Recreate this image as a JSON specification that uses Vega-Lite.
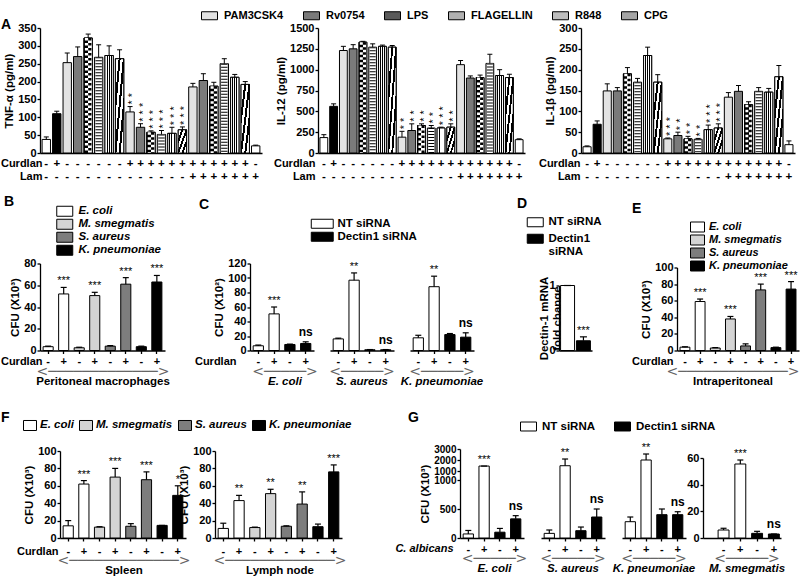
{
"$schema": "https://vega.github.io/schema/vega-lite/v6.json",
"padding": {"left": 0, "top": 7, "right": 0, "bottom": 0},
"spacing": 23.5,
"resolve": {"scale": {"fill": "independent"}, "legend": {"fill": "independent"}},
"config": {
 "font": "Liberation Sans",
 "view": {"stroke": null},
 "axis": {"labelFont": "Liberation Sans", "labelFontSize": 11, "labelFontWeight": "bold", "labelColor": "black", "titleFont": "Liberation Sans", "titleFontSize": 11.5, "titleFontWeight": "bold", "titleColor": "black", "domainColor": "black", "domainWidth": 1.3, "tickColor": "black", "tickWidth": 1.3, "tickSize": 3, "labelPadding": 1, "titlePadding": 3, "grid": false, "labelOverlap": false},
 "axisX": {"labelAngle": 0, "labelPadding": 2},
 "legend": {"labelFont": "Liberation Sans", "labelFontSize": 11.5, "labelFontWeight": "bold", "labelColor": "black", "symbolStrokeColor": "black", "symbolStrokeWidth": 1, "symbolOpacity": 1, "padding": 0, "labelLimit": 300, "titleFont": "Liberation Sans", "titleFontSize": 14, "titleFontWeight": "bold", "titleColor": "black", "titleOrient": "left", "titleAnchor": "start"},
 "title": {"orient": "bottom", "anchor": "middle", "frame": "group", "font": "DejaVu Sans", "fontSize": 14, "fontWeight": "normal", "color": "#666666", "offset": -2, "subtitleFont": "Liberation Sans", "subtitleFontSize": 11.5, "subtitleFontWeight": "bold", "subtitleColor": "black", "subtitlePadding": -3},
 "bar": {"stroke": "black", "strokeWidth": 1},
 "text": {"font": "Liberation Sans", "fontWeight": "bold", "color": "black"}
},
"vconcat": [
{
 "hconcat": [
 {
  "width": 222, "height": 125,
  "data": {"values": [
   {"k":"01|-|-","t":"Ctrl","v":38,"e":45,"s":""},
   {"k":"02|+|-","t":"Curdlan","v":110,"e":117,"s":""},
   {"k":"03|-|-","t":"PAM3CSK4","v":253,"e":280,"s":""},
   {"k":"04|-|-","t":"Rv0754","v":270,"e":297,"s":""},
   {"k":"05|-|-","t":"LPS","v":322,"e":333,"s":""},
   {"k":"06|-|-","t":"FLAGELLIN","v":268,"e":303,"s":""},
   {"k":"07|-|-","t":"R848","v":273,"e":300,"s":""},
   {"k":"08|-|-","t":"CPG","v":264,"e":289,"s":""},
   {"k":"09|+|-","t":"PAM3CSK4","v":115,"e":130,"s":"* *"},
   {"k":"10|+|-","t":"Rv0754","v":72,"e":82,"s":"* * *"},
   {"k":"11|+|-","t":"LPS","v":58,"e":62,"s":"* * *"},
   {"k":"12|+|-","t":"FLAGELLIN","v":52,"e":63,"s":"* * *"},
   {"k":"13|+|-","t":"R848","v":55,"e":72,"s":"* * *"},
   {"k":"14|+|-","t":"CPG","v":65,"e":73,"s":"* * *"},
   {"k":"15|+|+","t":"PAM3CSK4","v":185,"e":195,"s":""},
   {"k":"16|+|+","t":"Rv0754","v":203,"e":222,"s":""},
   {"k":"17|+|+","t":"LPS","v":187,"e":198,"s":""},
   {"k":"18|+|+","t":"FLAGELLIN","v":250,"e":264,"s":""},
   {"k":"19|+|+","t":"R848","v":212,"e":220,"s":""},
   {"k":"20|+|+","t":"CPG","v":192,"e":200,"s":""},
   {"k":"21|-|+","t":"Lam","v":20,"e":22,"s":""}
  ]},
  "encoding": {"x": {"field": "k", "type": "nominal", "sort": null, "scale": {"paddingInner": 0.2, "paddingOuter": 0.2}, "axis": {"labelExpr": "slice(split(datum.value,'|'),1)", "ticks": false, "labelPadding": 4, "labelLineHeight": 13, "labelFontSize": 11.5, "title": ["Curdlan", "Lam"], "titleX": 2, "titleY": 4, "titleAlign": "right", "titleBaseline": "top", "titleAngle": 0, "titleLineHeight": 13, "titleFontSize": 11}}},
  "layer": [
   {"mark": "bar", "encoding": {
     "y": {"field": "v", "type": "quantitative", "scale": {"domain": [0, 350], "nice": false}, "axis": {"values": [0,50,100,150,200,250,300,350], "tickCount": 20, "labelOverlap": false, "title": "TNF-α (pg/ml)"}},
     "fill": {"field": "t", "type": "nominal", "scale": {"domain": ["Ctrl","Curdlan","PAM3CSK4","Rv0754","LPS","FLAGELLIN","R848","CPG","Lam"], "range": ["white","black","#e3e3e3","#7a7a7a","#5a5a5a","#b0b0b0","#bdbdbd","#a5a5a5","white"]},
      "legend": {"values": ["PAM3CSK4","Rv0754","LPS","FLAGELLIN","R848","CPG"], "orient": "none", "legendX": -39, "legendY": -21, "title": "A", "titlePadding": 189, "titleBaseline": "line-top", "titleLineHeight": 36, "direction": "horizontal", "symbolType": "M-1,-0.5H1V0.5H-1Z", "symbolSize": 256, "labelFontSize": 11, "labelOffset": 6, "columnPadding": 17}}}},
   {"transform": [{"filter": "datum.t=='LPS'"}], "mark": {"type": "bar", "fill": {"gradient":"linear","x1":0,"y1":0,"x2":1,"y2":0,"stops":[{"offset":0,"color":"black"},{"offset":0.5,"color":"black"},{"offset":0.5,"color":"white"},{"offset":1,"color":"white"}]}}, "encoding": {"y": {"field": "v", "type": "quantitative"}}},
   {"transform": [{"filter": "datum.t=='LPS'"}], "mark": {"type": "rule", "color": "white", "strokeWidth": 3.2, "xOffset": -1.65, "strokeDash": [2.5, 2.5]}, "encoding": {"y": {"field": "v", "type": "quantitative"}, "y2": {"datum": 0}}},
   {"transform": [{"filter": "datum.t=='LPS'"}], "mark": {"type": "rule", "color": "black", "strokeWidth": 3.2, "xOffset": 1.65, "strokeDash": [2.5, 2.5]}, "encoding": {"y": {"field": "v", "type": "quantitative"}, "y2": {"datum": 0}}},
   {"transform": [{"filter": "datum.t=='FLAGELLIN'"}], "mark": {"type": "rule", "color": "white", "strokeWidth": 6.4}, "encoding": {"y": {"field": "v", "type": "quantitative"}, "y2": {"datum": 0}}},
   {"transform": [{"filter": "datum.t=='FLAGELLIN'"}], "mark": {"type": "rule", "color": "black", "strokeWidth": 6.4, "strokeDash": [1, 2]}, "encoding": {"y": {"field": "v", "type": "quantitative"}, "y2": {"datum": 0}}},
   {"transform": [{"filter": "datum.t=='R848'"}], "mark": {"type": "bar", "fill": {"gradient":"linear","x1":0,"y1":0,"x2":1,"y2":0,"stops":[{"offset":0,"color":"white"},{"offset":0.19,"color":"white"},{"offset":0.19,"color":"black"},{"offset":0.31,"color":"black"},{"offset":0.31,"color":"white"},{"offset":0.44,"color":"white"},{"offset":0.44,"color":"black"},{"offset":0.56,"color":"black"},{"offset":0.56,"color":"white"},{"offset":0.69,"color":"white"},{"offset":0.69,"color":"black"},{"offset":0.81,"color":"black"},{"offset":0.81,"color":"white"},{"offset":1,"color":"white"}]}}, "encoding": {"y": {"field": "v", "type": "quantitative"}}},
   {"transform": [{"filter": "datum.t=='CPG'"}], "mark": {"type": "bar", "fill": {"gradient":"linear","x1":0,"y1":0,"x2":1,"y2":1,"stops":[{"offset":0,"color":"white"},{"offset":0.19,"color":"white"},{"offset":0.19,"color":"black"},{"offset":0.31,"color":"black"},{"offset":0.31,"color":"white"},{"offset":0.44,"color":"white"},{"offset":0.44,"color":"black"},{"offset":0.56,"color":"black"},{"offset":0.56,"color":"white"},{"offset":0.69,"color":"white"},{"offset":0.69,"color":"black"},{"offset":0.81,"color":"black"},{"offset":0.81,"color":"white"},{"offset":1,"color":"white"}]}}, "encoding": {"y": {"field": "v", "type": "quantitative"}}},
   {"mark": {"type": "rule", "color": "black", "strokeWidth": 1}, "encoding": {"y": {"field": "e", "type": "quantitative"}, "y2": {"field": "v"}}},
   {"mark": {"type": "tick", "color": "black", "thickness": 1, "size": 5, "opacity": 1}, "encoding": {"y": {"field": "e", "type": "quantitative"}}},
   {"mark": {"type": "text", "angle": 270, "align": "left", "baseline": "middle", "dx": 2, "dy": 3, "fontSize": 11, "fontWeight": "normal"}, "encoding": {"y": {"field": "e", "type": "quantitative"}, "text": {"field": "s"}}}
  ]
 },
 {
  "width": 207, "height": 125,
  "data": {"values": [
   {"k":"01|-|-","t":"Ctrl","v":185,"e":220,"s":""},
   {"k":"02|+|-","t":"Curdlan","v":560,"e":590,"s":""},
   {"k":"03|-|-","t":"PAM3CSK4","v":1230,"e":1280,"s":""},
   {"k":"04|-|-","t":"Rv0754","v":1250,"e":1300,"s":""},
   {"k":"05|-|-","t":"LPS","v":1330,"e":1340,"s":""},
   {"k":"06|-|-","t":"FLAGELLIN","v":1270,"e":1310,"s":""},
   {"k":"07|-|-","t":"R848","v":1280,"e":1295,"s":""},
   {"k":"08|-|-","t":"CPG","v":1270,"e":1290,"s":""},
   {"k":"09|+|-","t":"PAM3CSK4","v":190,"e":260,"s":"* *"},
   {"k":"10|+|-","t":"Rv0754","v":270,"e":350,"s":"* *"},
   {"k":"11|+|-","t":"LPS","v":330,"e":350,"s":"* *"},
   {"k":"12|+|-","t":"FLAGELLIN","v":300,"e":330,"s":"* *"},
   {"k":"13|+|-","t":"R848","v":300,"e":310,"s":"* * *"},
   {"k":"14|+|-","t":"CPG","v":310,"e":350,"s":"* *"},
   {"k":"15|+|+","t":"PAM3CSK4","v":1060,"e":1110,"s":""},
   {"k":"16|+|+","t":"Rv0754","v":900,"e":925,"s":""},
   {"k":"17|+|+","t":"LPS","v":905,"e":935,"s":""},
   {"k":"18|+|+","t":"FLAGELLIN","v":1075,"e":1185,"s":""},
   {"k":"19|+|+","t":"R848","v":930,"e":1000,"s":""},
   {"k":"20|+|+","t":"CPG","v":905,"e":945,"s":""},
   {"k":"21|-|+","t":"Lam","v":160,"e":170,"s":""}
  ]},
  "encoding": {"x": {"field": "k", "type": "nominal", "sort": null, "scale": {"paddingInner": 0.2, "paddingOuter": 0.2}, "axis": {"labelExpr": "slice(split(datum.value,'|'),1)", "ticks": false, "labelPadding": 4, "labelLineHeight": 13, "labelFontSize": 11.5, "title": ["Curdlan", "Lam"], "titleX": -3, "titleY": 4, "titleAlign": "right", "titleBaseline": "top", "titleAngle": 0, "titleLineHeight": 13, "titleFontSize": 11}}},
  "layer": [
   {"mark": "bar", "encoding": {
     "y": {"field": "v", "type": "quantitative", "scale": {"domain": [0, 1500], "nice": false}, "axis": {"values": [0,250,500,750,1000,1250,1500], "tickCount": 20, "format": "d", "labelOverlap": false, "title": "IL-12 (pg/ml)"}},
     "fill": {"field": "t", "type": "nominal", "scale": {"domain": ["Ctrl","Curdlan","PAM3CSK4","Rv0754","LPS","FLAGELLIN","R848","CPG","Lam"], "range": ["white","black","#e3e3e3","#7a7a7a","#5a5a5a","#b0b0b0","#bdbdbd","#a5a5a5","white"]}, "legend": null}}},
   {"transform": [{"filter": "datum.t=='LPS'"}], "mark": {"type": "bar", "fill": {"gradient":"linear","x1":0,"y1":0,"x2":1,"y2":0,"stops":[{"offset":0,"color":"black"},{"offset":0.5,"color":"black"},{"offset":0.5,"color":"white"},{"offset":1,"color":"white"}]}}, "encoding": {"y": {"field": "v", "type": "quantitative"}}},
   {"transform": [{"filter": "datum.t=='LPS'"}], "mark": {"type": "rule", "color": "white", "strokeWidth": 3.0, "xOffset": -1.55, "strokeDash": [2.5, 2.5]}, "encoding": {"y": {"field": "v", "type": "quantitative"}, "y2": {"datum": 0}}},
   {"transform": [{"filter": "datum.t=='LPS'"}], "mark": {"type": "rule", "color": "black", "strokeWidth": 3.0, "xOffset": 1.55, "strokeDash": [2.5, 2.5]}, "encoding": {"y": {"field": "v", "type": "quantitative"}, "y2": {"datum": 0}}},
   {"transform": [{"filter": "datum.t=='FLAGELLIN'"}], "mark": {"type": "rule", "color": "white", "strokeWidth": 6.0}, "encoding": {"y": {"field": "v", "type": "quantitative"}, "y2": {"datum": 0}}},
   {"transform": [{"filter": "datum.t=='FLAGELLIN'"}], "mark": {"type": "rule", "color": "black", "strokeWidth": 6.0, "strokeDash": [1, 2]}, "encoding": {"y": {"field": "v", "type": "quantitative"}, "y2": {"datum": 0}}},
   {"transform": [{"filter": "datum.t=='R848'"}], "mark": {"type": "bar", "fill": {"gradient":"linear","x1":0,"y1":0,"x2":1,"y2":0,"stops":[{"offset":0,"color":"white"},{"offset":0.19,"color":"white"},{"offset":0.19,"color":"black"},{"offset":0.31,"color":"black"},{"offset":0.31,"color":"white"},{"offset":0.44,"color":"white"},{"offset":0.44,"color":"black"},{"offset":0.56,"color":"black"},{"offset":0.56,"color":"white"},{"offset":0.69,"color":"white"},{"offset":0.69,"color":"black"},{"offset":0.81,"color":"black"},{"offset":0.81,"color":"white"},{"offset":1,"color":"white"}]}}, "encoding": {"y": {"field": "v", "type": "quantitative"}}},
   {"transform": [{"filter": "datum.t=='CPG'"}], "mark": {"type": "bar", "fill": {"gradient":"linear","x1":0,"y1":0,"x2":1,"y2":1,"stops":[{"offset":0,"color":"white"},{"offset":0.19,"color":"white"},{"offset":0.19,"color":"black"},{"offset":0.31,"color":"black"},{"offset":0.31,"color":"white"},{"offset":0.44,"color":"white"},{"offset":0.44,"color":"black"},{"offset":0.56,"color":"black"},{"offset":0.56,"color":"white"},{"offset":0.69,"color":"white"},{"offset":0.69,"color":"black"},{"offset":0.81,"color":"black"},{"offset":0.81,"color":"white"},{"offset":1,"color":"white"}]}}, "encoding": {"y": {"field": "v", "type": "quantitative"}}},
   {"mark": {"type": "rule", "color": "black", "strokeWidth": 1}, "encoding": {"y": {"field": "e", "type": "quantitative"}, "y2": {"field": "v"}}},
   {"mark": {"type": "tick", "color": "black", "thickness": 1, "size": 5, "opacity": 1}, "encoding": {"y": {"field": "e", "type": "quantitative"}}},
   {"mark": {"type": "text", "angle": 270, "align": "left", "baseline": "middle", "dx": 2, "dy": 3, "fontSize": 11, "fontWeight": "normal"}, "encoding": {"y": {"field": "e", "type": "quantitative"}, "text": {"field": "s"}}}
  ]
 },
 {
  "width": 214, "height": 125,
  "data": {"values": [
   {"k":"01|-|-","t":"Ctrl","v":15,"e":17,"s":""},
   {"k":"02|+|-","t":"Curdlan","v":69,"e":77,"s":""},
   {"k":"03|-|-","t":"PAM3CSK4","v":149,"e":166,"s":""},
   {"k":"04|-|-","t":"Rv0754","v":149,"e":157,"s":""},
   {"k":"05|-|-","t":"LPS","v":190,"e":205,"s":""},
   {"k":"06|-|-","t":"FLAGELLIN","v":170,"e":179,"s":""},
   {"k":"07|-|-","t":"R848","v":234,"e":254,"s":""},
   {"k":"08|-|-","t":"CPG","v":170,"e":188,"s":""},
   {"k":"09|+|-","t":"PAM3CSK4","v":34,"e":36,"s":"* * *"},
   {"k":"10|+|-","t":"Rv0754","v":42,"e":50,"s":"* *"},
   {"k":"11|+|-","t":"LPS","v":34,"e":40,"s":"* *"},
   {"k":"12|+|-","t":"FLAGELLIN","v":33,"e":35,"s":"* *"},
   {"k":"13|+|-","t":"R848","v":56,"e":67,"s":"* * *"},
   {"k":"14|+|-","t":"CPG","v":60,"e":70,"s":"* * *"},
   {"k":"15|+|+","t":"PAM3CSK4","v":134,"e":145,"s":""},
   {"k":"16|+|+","t":"Rv0754","v":148,"e":162,"s":""},
   {"k":"17|+|+","t":"LPS","v":116,"e":123,"s":""},
   {"k":"18|+|+","t":"FLAGELLIN","v":148,"e":157,"s":""},
   {"k":"19|+|+","t":"R848","v":146,"e":155,"s":""},
   {"k":"20|+|+","t":"CPG","v":183,"e":210,"s":""},
   {"k":"21|-|+","t":"Lam","v":20,"e":29,"s":""}
  ]},
  "encoding": {"x": {"field": "k", "type": "nominal", "sort": null, "scale": {"paddingInner": 0.2, "paddingOuter": 0.2}, "axis": {"labelExpr": "slice(split(datum.value,'|'),1)", "ticks": false, "labelPadding": 4, "labelLineHeight": 13, "labelFontSize": 11.5, "title": ["Curdlan", "Lam"], "titleX": -1, "titleY": 4, "titleAlign": "right", "titleBaseline": "top", "titleAngle": 0, "titleLineHeight": 13, "titleFontSize": 11}}},
  "layer": [
   {"mark": "bar", "encoding": {
     "y": {"field": "v", "type": "quantitative", "scale": {"domain": [0, 300], "nice": false}, "axis": {"values": [0,50,100,150,200,250,300], "tickCount": 20, "labelOverlap": false, "title": "IL-1β (pg/ml)"}},
     "fill": {"field": "t", "type": "nominal", "scale": {"domain": ["Ctrl","Curdlan","PAM3CSK4","Rv0754","LPS","FLAGELLIN","R848","CPG","Lam"], "range": ["white","black","#e3e3e3","#7a7a7a","#5a5a5a","#b0b0b0","#bdbdbd","#a5a5a5","white"]}, "legend": null}}},
   {"transform": [{"filter": "datum.t=='LPS'"}], "mark": {"type": "bar", "fill": {"gradient":"linear","x1":0,"y1":0,"x2":1,"y2":0,"stops":[{"offset":0,"color":"black"},{"offset":0.5,"color":"black"},{"offset":0.5,"color":"white"},{"offset":1,"color":"white"}]}}, "encoding": {"y": {"field": "v", "type": "quantitative"}}},
   {"transform": [{"filter": "datum.t=='LPS'"}], "mark": {"type": "rule", "color": "white", "strokeWidth": 3.1, "xOffset": -1.6, "strokeDash": [2.5, 2.5]}, "encoding": {"y": {"field": "v", "type": "quantitative"}, "y2": {"datum": 0}}},
   {"transform": [{"filter": "datum.t=='LPS'"}], "mark": {"type": "rule", "color": "black", "strokeWidth": 3.1, "xOffset": 1.6, "strokeDash": [2.5, 2.5]}, "encoding": {"y": {"field": "v", "type": "quantitative"}, "y2": {"datum": 0}}},
   {"transform": [{"filter": "datum.t=='FLAGELLIN'"}], "mark": {"type": "rule", "color": "white", "strokeWidth": 6.2}, "encoding": {"y": {"field": "v", "type": "quantitative"}, "y2": {"datum": 0}}},
   {"transform": [{"filter": "datum.t=='FLAGELLIN'"}], "mark": {"type": "rule", "color": "black", "strokeWidth": 6.2, "strokeDash": [1, 2]}, "encoding": {"y": {"field": "v", "type": "quantitative"}, "y2": {"datum": 0}}},
   {"transform": [{"filter": "datum.t=='R848'"}], "mark": {"type": "bar", "fill": {"gradient":"linear","x1":0,"y1":0,"x2":1,"y2":0,"stops":[{"offset":0,"color":"white"},{"offset":0.19,"color":"white"},{"offset":0.19,"color":"black"},{"offset":0.31,"color":"black"},{"offset":0.31,"color":"white"},{"offset":0.44,"color":"white"},{"offset":0.44,"color":"black"},{"offset":0.56,"color":"black"},{"offset":0.56,"color":"white"},{"offset":0.69,"color":"white"},{"offset":0.69,"color":"black"},{"offset":0.81,"color":"black"},{"offset":0.81,"color":"white"},{"offset":1,"color":"white"}]}}, "encoding": {"y": {"field": "v", "type": "quantitative"}}},
   {"transform": [{"filter": "datum.t=='CPG'"}], "mark": {"type": "bar", "fill": {"gradient":"linear","x1":0,"y1":0,"x2":1,"y2":1,"stops":[{"offset":0,"color":"white"},{"offset":0.19,"color":"white"},{"offset":0.19,"color":"black"},{"offset":0.31,"color":"black"},{"offset":0.31,"color":"white"},{"offset":0.44,"color":"white"},{"offset":0.44,"color":"black"},{"offset":0.56,"color":"black"},{"offset":0.56,"color":"white"},{"offset":0.69,"color":"white"},{"offset":0.69,"color":"black"},{"offset":0.81,"color":"black"},{"offset":0.81,"color":"white"},{"offset":1,"color":"white"}]}}, "encoding": {"y": {"field": "v", "type": "quantitative"}}},
   {"mark": {"type": "rule", "color": "black", "strokeWidth": 1}, "encoding": {"y": {"field": "e", "type": "quantitative"}, "y2": {"field": "v"}}},
   {"mark": {"type": "tick", "color": "black", "thickness": 1, "size": 5, "opacity": 1}, "encoding": {"y": {"field": "e", "type": "quantitative"}}},
   {"mark": {"type": "text", "angle": 270, "align": "left", "baseline": "middle", "dx": 2, "dy": 3, "fontSize": 11, "fontWeight": "normal"}, "encoding": {"y": {"field": "e", "type": "quantitative"}, "text": {"field": "s"}}}
  ]
 }
 ],
 "spacing": 56, "bounds": "flush",
 "resolve": {"scale": {"fill": "independent"}, "legend": {"fill": "independent"}}
},
{
 "vconcat": [
 {
  "hconcat": [
  {
   "width": 194, "height": 87,
   "title": {"text": "<─────────────>", "subtitle": "Peritoneal macrophages", "dx": -34},
   "data": {"values": [
    {"k":"1-","g":"E. coli","v":3.5,"e":4,"s":""},
    {"k":"1+","g":"E. coli","v":52,"e":58,"s":"***"},
    {"k":"2-","g":"M. smegmatis","v":2.5,"e":3,"s":""},
    {"k":"2+","g":"M. smegmatis","v":50.5,"e":53.5,"s":"***"},
    {"k":"3-","g":"S. aureus","v":4,"e":4.5,"s":""},
    {"k":"3+","g":"S. aureus","v":61,"e":67,"s":"***"},
    {"k":"4-","g":"K. pneumoniae","v":3.5,"e":4,"s":""},
    {"k":"4+","g":"K. pneumoniae","v":63,"e":69,"s":"***"}
   ]},
   "encoding": {"x": {"field": "k", "type": "nominal", "sort": null, "scale": {"paddingInner": 0.35, "paddingOuter": 0.2, "range": [0, 125]}, "axis": {"labelExpr": "substring(datum.value,1)", "title": "Curdlan", "titleX": 2, "titleY": 5, "titleAlign": "right", "titleBaseline": "top", "titleAngle": 0, "titleFontSize": 11}}},
   "layer": [
    {"mark": "bar", "encoding": {
      "y": {"field": "v", "type": "quantitative", "scale": {"domain": [0, 80]}, "axis": {"values": [0,20,40,60,80], "tickCount": 20, "labelOverlap": false, "title": "CFU (X10³)"}},
      "fill": {"field": "g", "type": "nominal", "scale": {"domain": ["E. coli","M. smegmatis","S. aureus","K. pneumoniae"], "range": ["white","#d4d4d4","#7d7d7d","black"]},
       "legend": {"orient": "none", "legendX": -36, "legendY": -58, "title": "B", "titlePadding": 44, "titleBaseline": "alphabetic", "symbolType": "M-1.6,-1H1.6V1H-1.6Z", "symbolSize": 100, "labelFontStyle": "italic", "rowPadding": -4.5, "labelOffset": 8}}}},
    {"mark": {"type": "rule", "color": "black", "strokeWidth": 1.2}, "encoding": {"y": {"field": "e", "type": "quantitative"}, "y2": {"field": "v"}}},
    {"mark": {"type": "tick", "color": "black", "thickness": 1.2, "size": 6, "opacity": 1}, "encoding": {"y": {"field": "e", "type": "quantitative"}}},
    {"transform": [{"filter": "datum.s!='' && datum.s!='ns'"}], "mark": {"type": "text", "baseline": "alphabetic", "dy": -3, "fontSize": 11, "fontWeight": "normal"}, "encoding": {"y": {"field": "e", "type": "quantitative"}, "text": {"field": "s"}}}
   ]
  },
  {
   "width": 64, "height": 87,
   "title": {"text": "<─────>", "subtitle": "E. coli", "subtitleFontStyle": "italic", "dx": 3},
   "data": {"values": [
    {"k":"1-","g":"NT siRNA","v":6.5,"e":7.5,"s":""},
    {"k":"1+","g":"NT siRNA","v":50.5,"e":60,"s":"***"},
    {"k":"2-","g":"Dectin1 siRNA","v":8.3,"e":8.8,"s":""},
    {"k":"2+","g":"Dectin1 siRNA","v":9.7,"e":12,"s":"ns"}
   ]},
   "encoding": {"x": {"field": "k", "type": "nominal", "sort": null, "scale": {"paddingInner": 0.35, "paddingOuter": 0.2}, "axis": {"labelExpr": "substring(datum.value,1)", "title": "Curdlan", "titleX": -14, "titleY": 5, "titleAlign": "right", "titleBaseline": "top", "titleAngle": 0, "titleFontSize": 11}}},
   "layer": [
    {"mark": "bar", "encoding": {
      "y": {"field": "v", "type": "quantitative", "scale": {"domain": [0, 120]}, "axis": {"values": [0,20,40,60,80,100,120], "tickCount": 20, "labelOverlap": false, "title": "CFU (X10²)"}},
      "fill": {"field": "g", "type": "nominal", "scale": {"domain": ["NT siRNA","Dectin1 siRNA"], "range": ["white","black"]},
       "legend": {"orient": "none", "legendX": -51, "legendY": -45.5, "title": "C", "titlePadding": 106.5, "titleBaseline": "line-bottom", "titleLineHeight": 27, "symbolType": "M-2.44,-1H2.44V1H-2.44Z", "symbolSize": 81, "rowPadding": -2.5, "labelOffset": 9.5}}}},
    {"mark": {"type": "rule", "color": "black", "strokeWidth": 1.2}, "encoding": {"y": {"field": "e", "type": "quantitative"}, "y2": {"field": "v"}}},
    {"mark": {"type": "tick", "color": "black", "thickness": 1.2, "size": 6, "opacity": 1}, "encoding": {"y": {"field": "e", "type": "quantitative"}}},
    {"transform": [{"filter": "datum.s!='' && datum.s!='ns'"}], "mark": {"type": "text", "baseline": "alphabetic", "dy": -3, "fontSize": 11, "fontWeight": "normal"}, "encoding": {"y": {"field": "e", "type": "quantitative"}, "text": {"field": "s"}}},
    {"transform": [{"filter": "datum.s=='ns'"}], "mark": {"type": "text", "baseline": "alphabetic", "dy": -6, "fontSize": 12}, "encoding": {"y": {"field": "e", "type": "quantitative"}, "text": {"field": "s"}}}
   ]
  },
  {
   "width": 64, "height": 87,
   "title": {"text": "<─────>", "subtitle": "S. aureus", "subtitleFontStyle": "italic"},
   "data": {"values": [
    {"k":"1-","g":"NT siRNA","v":16,"e":17,"s":""},
    {"k":"1+","g":"NT siRNA","v":97,"e":107,"s":"**"},
    {"k":"2-","g":"Dectin1 siRNA","v":1,"e":1.3,"s":""},
    {"k":"2+","g":"Dectin1 siRNA","v":1,"e":1.3,"s":"ns"}
   ]},
   "encoding": {"x": {"field": "k", "type": "nominal", "sort": null, "scale": {"paddingInner": 0.35, "paddingOuter": 0.2}, "axis": {"labelExpr": "substring(datum.value,1)", "title": null}}},
   "layer": [
    {"mark": "bar", "encoding": {
      "y": {"field": "v", "type": "quantitative", "scale": {"domain": [0, 120]}, "axis": null},
      "fill": {"field": "g", "type": "nominal", "scale": {"domain": ["NT siRNA","Dectin1 siRNA"], "range": ["white","black"]}, "legend": null}}},
    {"mark": {"type": "rule", "color": "black", "strokeWidth": 1.2}, "encoding": {"y": {"field": "e", "type": "quantitative"}, "y2": {"field": "v"}}},
    {"mark": {"type": "tick", "color": "black", "thickness": 1.2, "size": 6, "opacity": 1}, "encoding": {"y": {"field": "e", "type": "quantitative"}}},
    {"transform": [{"filter": "datum.s!='' && datum.s!='ns'"}], "mark": {"type": "text", "baseline": "alphabetic", "dy": -3, "fontSize": 11, "fontWeight": "normal"}, "encoding": {"y": {"field": "e", "type": "quantitative"}, "text": {"field": "s"}}},
    {"transform": [{"filter": "datum.s=='ns'"}], "mark": {"type": "text", "baseline": "alphabetic", "dy": -6, "fontSize": 12}, "encoding": {"y": {"field": "e", "type": "quantitative"}, "text": {"field": "s"}}}
   ]
  },
  {
   "width": 64, "height": 87,
   "title": {"text": "<─────>", "subtitle": "K. pneumoniae", "subtitleFontStyle": "italic"},
   "data": {"values": [
    {"k":"1-","g":"NT siRNA","v":17.5,"e":21,"s":""},
    {"k":"1+","g":"NT siRNA","v":88,"e":102.5,"s":"**"},
    {"k":"2-","g":"Dectin1 siRNA","v":22,"e":23.4,"s":""},
    {"k":"2+","g":"Dectin1 siRNA","v":18.4,"e":24.4,"s":"ns"}
   ]},
   "encoding": {"x": {"field": "k", "type": "nominal", "sort": null, "scale": {"paddingInner": 0.35, "paddingOuter": 0.2}, "axis": {"labelExpr": "substring(datum.value,1)", "title": null}}},
   "layer": [
    {"mark": "bar", "encoding": {
      "y": {"field": "v", "type": "quantitative", "scale": {"domain": [0, 120]}, "axis": null},
      "fill": {"field": "g", "type": "nominal", "scale": {"domain": ["NT siRNA","Dectin1 siRNA"], "range": ["white","black"]}, "legend": null}}},
    {"mark": {"type": "rule", "color": "black", "strokeWidth": 1.2}, "encoding": {"y": {"field": "e", "type": "quantitative"}, "y2": {"field": "v"}}},
    {"mark": {"type": "tick", "color": "black", "thickness": 1.2, "size": 6, "opacity": 1}, "encoding": {"y": {"field": "e", "type": "quantitative"}}},
    {"transform": [{"filter": "datum.s!='' && datum.s!='ns'"}], "mark": {"type": "text", "baseline": "alphabetic", "dy": -3, "fontSize": 11, "fontWeight": "normal"}, "encoding": {"y": {"field": "e", "type": "quantitative"}, "text": {"field": "s"}}},
    {"transform": [{"filter": "datum.s=='ns'"}], "mark": {"type": "text", "baseline": "alphabetic", "dy": -6, "fontSize": 12}, "encoding": {"y": {"field": "e", "type": "quantitative"}, "text": {"field": "s"}}}
   ]
  },
  {
   "width": 102, "height": 87,
   "data": {"values": [
    {"k":"a","g":"NT siRNA","v":1,"e":1,"s":""},
    {"k":"b","g":"Dectin1 siRNA","v":0.15,"e":0.21,"s":"***"}
   ]},
   "encoding": {"x": {"field": "k", "type": "nominal", "sort": null, "scale": {"paddingInner": 0.12, "paddingOuter": 0.1, "range": [69, 102]}, "axis": {"labels": false, "ticks": false, "title": null}}},
   "layer": [
    {"mark": "bar", "encoding": {
      "y": {"field": "v", "type": "quantitative", "scale": {"domain": [0, 1], "range": [87, 22]}, "axis": {"values": [0, 1], "tickCount": 20, "format": "d", "offset": -69, "labelOverlap": false, "title": ["Dectin-1 mRNA", "fold change"], "titleLineHeight": 13, "titlePadding": -14}},
      "fill": {"field": "g", "type": "nominal", "scale": {"domain": ["NT siRNA","Dectin1 siRNA"], "range": ["white","black"]},
       "legend": {"orient": "none", "legendX": 27, "legendY": -47, "title": "D", "titlePadding": 1.5, "titleBaseline": "line-bottom", "titleLineHeight": 26, "symbolType": "M-1.78,-1H1.78V1H-1.78Z", "symbolSize": 81, "rowPadding": 2.5, "labelOffset": 7.5, "labelExpr": "datum.label=='Dectin1 siRNA' ? ['Dectin1','siRNA'] : datum.label"}}}},
    {"mark": {"type": "rule", "color": "black", "strokeWidth": 1.2}, "encoding": {"y": {"field": "e", "type": "quantitative"}, "y2": {"field": "v"}}},
    {"mark": {"type": "tick", "color": "black", "thickness": 1.2, "size": 7, "opacity": 1}, "encoding": {"y": {"field": "e", "type": "quantitative"}}},
    {"transform": [{"filter": "datum.s!=''"}], "mark": {"type": "text", "baseline": "alphabetic", "dy": -3, "fontSize": 11, "fontWeight": "normal"}, "encoding": {"y": {"field": "e", "type": "quantitative"}, "text": {"field": "s"}}}
   ]
  },
  {
   "width": 191, "height": 87,
   "title": {"text": "<─────────────>", "subtitle": "Intraperitoneal", "dx": 29.5},
   "data": {"values": [
    {"k":"1-","g":"E. coli","v":4,"e":4.5,"s":""},
    {"k":"1+","g":"E. coli","v":59,"e":62,"s":"***"},
    {"k":"2-","g":"M. smegmatis","v":3,"e":3.5,"s":""},
    {"k":"2+","g":"M. smegmatis","v":38,"e":41,"s":"***"},
    {"k":"3-","g":"S. aureus","v":5.5,"e":8,"s":""},
    {"k":"3+","g":"S. aureus","v":73,"e":80,"s":"***"},
    {"k":"4-","g":"K. pneumoniae","v":3.5,"e":4,"s":""},
    {"k":"4+","g":"K. pneumoniae","v":74,"e":83,"s":"***"}
   ]},
   "encoding": {"x": {"field": "k", "type": "nominal", "sort": null, "scale": {"paddingInner": 0.35, "paddingOuter": 0.2, "range": [69, 191]}, "axis": {"labelExpr": "substring(datum.value,1)", "title": "Curdlan", "titleX": 65, "titleY": 5, "titleAlign": "right", "titleBaseline": "top", "titleAngle": 0, "titleFontSize": 11}}},
   "layer": [
    {"mark": "bar", "encoding": {
      "y": {"field": "v", "type": "quantitative", "scale": {"domain": [0, 100], "range": [87, 4]}, "axis": {"values": [0,20,40,60,80,100], "tickCount": 20, "offset": -69, "labelOverlap": false, "title": "CFU (X10³)"}},
      "fill": {"field": "g", "type": "nominal", "scale": {"domain": ["E. coli","M. smegmatis","S. aureus","K. pneumoniae"], "range": ["white","#d4d4d4","#7d7d7d","black"]},
       "legend": {"orient": "none", "legendX": 24, "legendY": -42, "title": "E", "titlePadding": 50, "titleBaseline": "line-bottom", "titleLineHeight": 26, "symbolType": "M-1.4,-1H1.4V1H-1.4Z", "symbolSize": 100, "labelFontStyle": "italic", "labelFontSize": 11, "rowPadding": -5, "labelOffset": 6}}}},
    {"mark": {"type": "rule", "color": "black", "strokeWidth": 1.2}, "encoding": {"y": {"field": "e", "type": "quantitative"}, "y2": {"field": "v"}}},
    {"mark": {"type": "tick", "color": "black", "thickness": 1.2, "size": 6, "opacity": 1}, "encoding": {"y": {"field": "e", "type": "quantitative"}}},
    {"transform": [{"filter": "datum.s!='' && datum.s!='ns'"}], "mark": {"type": "text", "baseline": "alphabetic", "dy": -3, "fontSize": 11, "fontWeight": "normal"}, "encoding": {"y": {"field": "e", "type": "quantitative"}, "text": {"field": "s"}}}
   ]
  }
  ],
  "spacing": 16, "bounds": "flush",
  "resolve": {"scale": {"fill": "independent"}, "legend": {"fill": "independent"}}
 },
 {
  "hconcat": [
  {
   "width": 146, "height": 89,
   "title": {"text": "<─────────────>", "subtitle": "Spleen", "dx": 11},
   "data": {"values": [
    {"k":"1-","g":"E. coli","v":14,"e":20,"s":""},
    {"k":"1+","g":"E. coli","v":62,"e":66,"s":"***"},
    {"k":"2-","g":"M. smegmatis","v":12.5,"e":13,"s":""},
    {"k":"2+","g":"M. smegmatis","v":70,"e":80,"s":"***"},
    {"k":"3-","g":"S. aureus","v":13.5,"e":16.5,"s":""},
    {"k":"3+","g":"S. aureus","v":67,"e":76,"s":"***"},
    {"k":"4-","g":"K. pneumoniae","v":14.5,"e":14.5,"s":""},
    {"k":"4+","g":"K. pneumoniae","v":49,"e":60,"s":"*"}
   ]},
   "encoding": {"x": {"field": "k", "type": "nominal", "sort": null, "scale": {"paddingInner": 0.35, "paddingOuter": 0.2, "range": [20, 146]}, "axis": {"labelExpr": "substring(datum.value,1)", "labelPadding": 4, "title": "Curdlan", "titleX": 18, "titleY": 7, "titleAlign": "right", "titleBaseline": "top", "titleAngle": 0, "titleFontSize": 11}}},
   "layer": [
    {"mark": "bar", "encoding": {
      "y": {"field": "v", "type": "quantitative", "scale": {"domain": [0, 100], "range": [89, 2]}, "axis": {"values": [0,20,40,60,80,100], "tickCount": 20, "labelOverlap": false, "title": "CFU (X10³)", "offset": -20}},
      "fill": {"field": "g", "type": "nominal", "scale": {"domain": ["E. coli","M. smegmatis","S. aureus","K. pneumoniae"], "range": ["white","#d4d4d4","#7d7d7d","black"]},
       "legend": {"orient": "none", "legendX": -39, "legendY": -31, "title": "F", "titlePadding": 13, "titleBaseline": "middle", "direction": "vertical", "columns": 4, "symbolType": "M-1,-0.77H1V0.77H-1Z", "symbolSize": 169, "labelFontStyle": "italic", "labelOffset": 3, "columnPadding": 3}}}},
    {"mark": {"type": "rule", "color": "black", "strokeWidth": 1.2}, "encoding": {"y": {"field": "e", "type": "quantitative"}, "y2": {"field": "v"}}},
    {"mark": {"type": "tick", "color": "black", "thickness": 1.2, "size": 6, "opacity": 1}, "encoding": {"y": {"field": "e", "type": "quantitative"}}},
    {"transform": [{"filter": "datum.s!='' && datum.s!='ns'"}], "mark": {"type": "text", "baseline": "alphabetic", "dy": -3, "fontSize": 11, "fontWeight": "normal"}, "encoding": {"y": {"field": "e", "type": "quantitative"}, "text": {"field": "s"}}}
   ]
  },
  {
   "width": 139, "height": 89,
   "title": {"text": "<─────────────>", "subtitle": "Lymph node", "dx": 7.5},
   "data": {"values": [
    {"k":"1-","g":"E. coli","v":11,"e":17,"s":""},
    {"k":"1+","g":"E. coli","v":43,"e":49,"s":"**"},
    {"k":"2-","g":"M. smegmatis","v":12,"e":12.5,"s":""},
    {"k":"2+","g":"M. smegmatis","v":51,"e":56,"s":"**"},
    {"k":"3-","g":"S. aureus","v":13.5,"e":14,"s":""},
    {"k":"3+","g":"S. aureus","v":39,"e":53,"s":"**"},
    {"k":"4-","g":"K. pneumoniae","v":13,"e":16,"s":""},
    {"k":"4+","g":"K. pneumoniae","v":76,"e":84,"s":"***"}
   ]},
   "encoding": {"x": {"field": "k", "type": "nominal", "sort": null, "scale": {"paddingInner": 0.35, "paddingOuter": 0.2, "range": [12, 139]}, "axis": {"labelExpr": "substring(datum.value,1)", "labelPadding": 4, "title": null}}},
   "layer": [
    {"mark": "bar", "encoding": {
      "y": {"field": "v", "type": "quantitative", "scale": {"domain": [0, 100], "range": [89, 2]}, "axis": {"values": [0,20,40,60,80,100], "tickCount": 20, "labelOverlap": false, "title": "CFU (X10³)", "offset": -12}},
      "fill": {"field": "g", "type": "nominal", "scale": {"domain": ["E. coli","M. smegmatis","S. aureus","K. pneumoniae"], "range": ["white","#d4d4d4","#7d7d7d","black"]}, "legend": null}}},
    {"mark": {"type": "rule", "color": "black", "strokeWidth": 1.2}, "encoding": {"y": {"field": "e", "type": "quantitative"}, "y2": {"field": "v"}}},
    {"mark": {"type": "tick", "color": "black", "thickness": 1.2, "size": 6, "opacity": 1}, "encoding": {"y": {"field": "e", "type": "quantitative"}}},
    {"transform": [{"filter": "datum.s!='' && datum.s!='ns'"}], "mark": {"type": "text", "baseline": "alphabetic", "dy": -3, "fontSize": 11, "fontWeight": "normal"}, "encoding": {"y": {"field": "e", "type": "quantitative"}, "text": {"field": "s"}}}
   ]
  },
  {
   "width": 165, "height": 89,
   "title": {"text": "<─────>", "subtitle": "E. coli", "subtitleFontStyle": "italic", "dx": 53},
   "data": {"values": [
    {"k":"1-","g":"NT siRNA","v":70,"e":130,"s":""},
    {"k":"1+","g":"NT siRNA","v":1450,"e":1450,"s":"***"},
    {"k":"2-","g":"Dectin1 siRNA","v":100,"e":165,"s":""},
    {"k":"2+","g":"Dectin1 siRNA","v":330,"e":385,"s":"ns"}
   ]},
   "encoding": {"x": {"field": "k", "type": "nominal", "sort": null, "scale": {"paddingInner": 0.35, "paddingOuter": 0.2, "range": [101, 165]}, "axis": {"labelExpr": "substring(datum.value,1)", "title": "C. albicans", "titleFontStyle": "italic", "titleX": 94, "titleY": 4, "titleAlign": "right", "titleBaseline": "top", "titleAngle": 0, "titleFontSize": 11}}},
   "layer": [
    {"mark": "bar", "encoding": {
      "y": {"field": "v", "type": "quantitative", "scale": {"domain": [0, 1000, 1001, 3000], "range": [89, 31, 22, 0], "nice": false, "zero": false}, "axis": {"values": [0, 500, 1000, 1001, 2000, 3000], "tickCount": 20, "format": "d", "labelExpr": "datum.value == 1001 ? '1000' : datum.label", "labelOverlap": false, "labelFontSize": 10, "title": "CFU (X10³)", "offset": -101}},
      "fill": {"field": "g", "type": "nominal", "scale": {"domain": ["NT siRNA","Dectin1 siRNA"], "range": ["white","black"]},
       "legend": {"orient": "none", "legendX": 49, "legendY": -31, "title": "G", "titlePadding": 101, "titleBaseline": "middle", "direction": "vertical", "columns": 2, "symbolType": "M-1,-0.56H1V0.56H-1Z", "symbolSize": 256, "labelOffset": 5, "columnPadding": 16}}}},
    {"mark": {"type": "rule", "color": "black", "strokeWidth": 1.2}, "encoding": {"y": {"field": "e", "type": "quantitative"}, "y2": {"field": "v"}}},
    {"mark": {"type": "tick", "color": "black", "thickness": 1.2, "size": 6, "opacity": 1}, "encoding": {"y": {"field": "e", "type": "quantitative"}}},
    {"transform": [{"filter": "datum.s!='' && datum.s!='ns'"}], "mark": {"type": "text", "baseline": "alphabetic", "dy": -3, "fontSize": 11, "fontWeight": "normal"}, "encoding": {"y": {"field": "e", "type": "quantitative"}, "text": {"field": "s"}}},
    {"transform": [{"filter": "datum.s=='ns'"}], "mark": {"type": "text", "baseline": "alphabetic", "dy": -6, "fontSize": 12}, "encoding": {"y": {"field": "e", "type": "quantitative"}, "text": {"field": "s"}}}
   ]
  },
  {
   "width": 64, "height": 89,
   "title": {"text": "<─────>", "subtitle": "S. aureus", "subtitleFontStyle": "italic"},
   "data": {"values": [
    {"k":"1-","g":"NT siRNA","v":80,"e":138,"s":""},
    {"k":"1+","g":"NT siRNA","v":1480,"e":2090,"s":"**"},
    {"k":"2-","g":"Dectin1 siRNA","v":126,"e":189,"s":""},
    {"k":"2+","g":"Dectin1 siRNA","v":362,"e":500,"s":"ns"}
   ]},
   "encoding": {"x": {"field": "k", "type": "nominal", "sort": null, "scale": {"paddingInner": 0.35, "paddingOuter": 0.2}, "axis": {"labelExpr": "substring(datum.value,1)", "title": null}}},
   "layer": [
    {"mark": "bar", "encoding": {
      "y": {"field": "v", "type": "quantitative", "scale": {"domain": [0, 1000, 1001, 3000], "range": [89, 31, 22, 0], "nice": false, "zero": false}, "axis": null},
      "fill": {"field": "g", "type": "nominal", "scale": {"domain": ["NT siRNA","Dectin1 siRNA"], "range": ["white","black"]}, "legend": null}}},
    {"mark": {"type": "rule", "color": "black", "strokeWidth": 1.2}, "encoding": {"y": {"field": "e", "type": "quantitative"}, "y2": {"field": "v"}}},
    {"mark": {"type": "tick", "color": "black", "thickness": 1.2, "size": 6, "opacity": 1}, "encoding": {"y": {"field": "e", "type": "quantitative"}}},
    {"transform": [{"filter": "datum.s!='' && datum.s!='ns'"}], "mark": {"type": "text", "baseline": "alphabetic", "dy": -3, "fontSize": 11, "fontWeight": "normal"}, "encoding": {"y": {"field": "e", "type": "quantitative"}, "text": {"field": "s"}}},
    {"transform": [{"filter": "datum.s=='ns'"}], "mark": {"type": "text", "baseline": "alphabetic", "dy": -6, "fontSize": 12}, "encoding": {"y": {"field": "e", "type": "quantitative"}, "text": {"field": "s"}}}
   ]
  },
  {
   "width": 64, "height": 89,
   "title": {"text": "<─────>", "subtitle": "K. pneumoniae", "subtitleFontStyle": "italic"},
   "data": {"values": [
    {"k":"1-","g":"NT siRNA","v":281,"e":362,"s":""},
    {"k":"1+","g":"NT siRNA","v":2000,"e":2545,"s":"**"},
    {"k":"2-","g":"Dectin1 siRNA","v":402,"e":500,"s":""},
    {"k":"2+","g":"Dectin1 siRNA","v":402,"e":453,"s":"ns"}
   ]},
   "encoding": {"x": {"field": "k", "type": "nominal", "sort": null, "scale": {"paddingInner": 0.35, "paddingOuter": 0.2}, "axis": {"labelExpr": "substring(datum.value,1)", "title": null}}},
   "layer": [
    {"mark": "bar", "encoding": {
      "y": {"field": "v", "type": "quantitative", "scale": {"domain": [0, 1000, 1001, 3000], "range": [89, 31, 22, 0], "nice": false, "zero": false}, "axis": null},
      "fill": {"field": "g", "type": "nominal", "scale": {"domain": ["NT siRNA","Dectin1 siRNA"], "range": ["white","black"]}, "legend": null}}},
    {"mark": {"type": "rule", "color": "black", "strokeWidth": 1.2}, "encoding": {"y": {"field": "e", "type": "quantitative"}, "y2": {"field": "v"}}},
    {"mark": {"type": "tick", "color": "black", "thickness": 1.2, "size": 6, "opacity": 1}, "encoding": {"y": {"field": "e", "type": "quantitative"}}},
    {"transform": [{"filter": "datum.s!='' && datum.s!='ns'"}], "mark": {"type": "text", "baseline": "alphabetic", "dy": -3, "fontSize": 11, "fontWeight": "normal"}, "encoding": {"y": {"field": "e", "type": "quantitative"}, "text": {"field": "s"}}},
    {"transform": [{"filter": "datum.s=='ns'"}], "mark": {"type": "text", "baseline": "alphabetic", "dy": -6, "fontSize": 12}, "encoding": {"y": {"field": "e", "type": "quantitative"}, "text": {"field": "s"}}}
   ]
  },
  {
   "width": 78, "height": 89,
   "title": {"text": "<─────>", "subtitle": "M. smegmatis", "subtitleFontStyle": "italic", "dx": 5},
   "data": {"values": [
    {"k":"1-","g":"NT siRNA","v":6,"e":7.3,"s":""},
    {"k":"1+","g":"NT siRNA","v":55.5,"e":58.5,"s":"***"},
    {"k":"2-","g":"Dectin1 siRNA","v":3.5,"e":5,"s":""},
    {"k":"2+","g":"Dectin1 siRNA","v":3,"e":3,"s":"ns"}
   ]},
   "encoding": {"x": {"field": "k", "type": "nominal", "sort": null, "scale": {"paddingInner": 0.35, "paddingOuter": 0.5, "align": 0.9}, "axis": {"labelExpr": "substring(datum.value,1)", "title": null}}},
   "layer": [
    {"mark": "bar", "encoding": {
      "y": {"field": "v", "type": "quantitative", "scale": {"domain": [0, 60], "range": [89, 9]}, "axis": {"values": [0,20,40,60], "tickCount": 20, "labelOverlap": false, "title": null}},
      "fill": {"field": "g", "type": "nominal", "scale": {"domain": ["NT siRNA","Dectin1 siRNA"], "range": ["white","black"]}, "legend": null}}},
    {"mark": {"type": "rule", "color": "black", "strokeWidth": 1.2}, "encoding": {"y": {"field": "e", "type": "quantitative"}, "y2": {"field": "v"}}},
    {"mark": {"type": "tick", "color": "black", "thickness": 1.2, "size": 6, "opacity": 1}, "encoding": {"y": {"field": "e", "type": "quantitative"}}},
    {"transform": [{"filter": "datum.s!='' && datum.s!='ns'"}], "mark": {"type": "text", "baseline": "alphabetic", "dy": -3, "fontSize": 11, "fontWeight": "normal"}, "encoding": {"y": {"field": "e", "type": "quantitative"}, "text": {"field": "s"}}},
    {"transform": [{"filter": "datum.s=='ns'"}], "mark": {"type": "text", "baseline": "alphabetic", "dy": -6, "fontSize": 12}, "encoding": {"y": {"field": "e", "type": "quantitative"}, "text": {"field": "s"}}}
   ]
  }
  ],
  "spacing": 17, "bounds": "flush",
  "resolve": {"scale": {"fill": "independent"}, "legend": {"fill": "independent"}}
 }
 ],
 "spacing": 30.5,
 "resolve": {"scale": {"fill": "independent"}, "legend": {"fill": "independent"}}
}
]
}
